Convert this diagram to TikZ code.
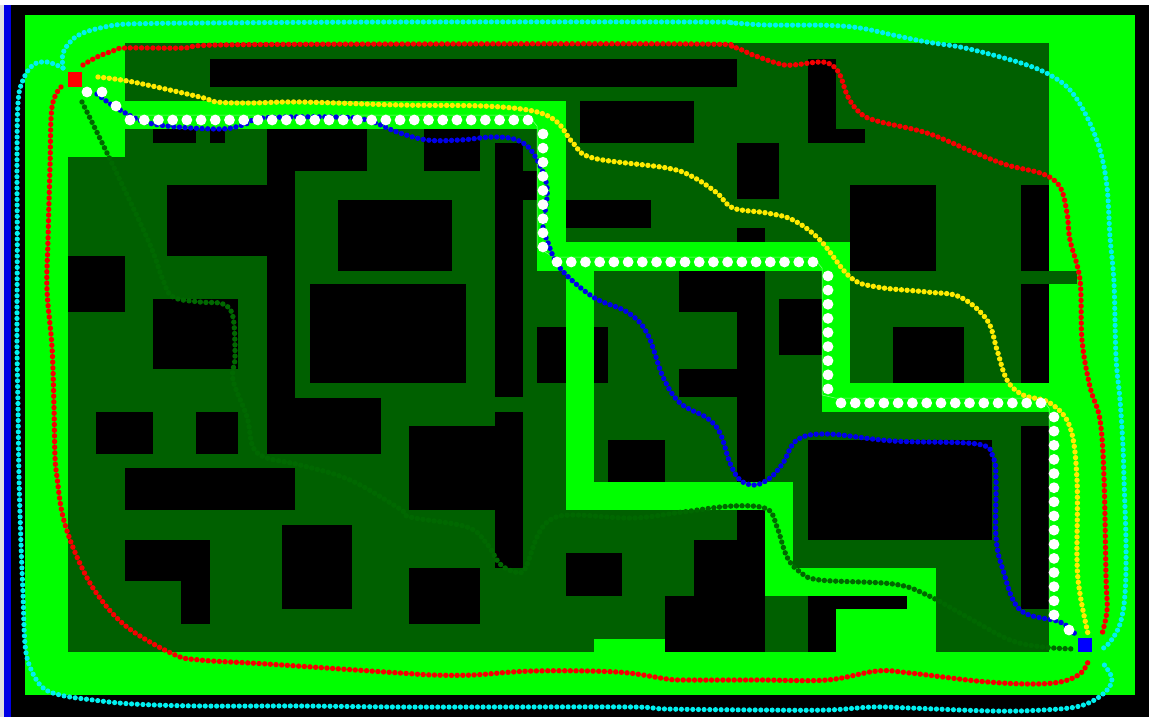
\documentclass[tikz,border=0pt]{standalone}
\definecolor{brightg}{RGB}{0,255,0}
\definecolor{darkg}{RGB}{0,96,0}
\definecolor{pathg}{RGB}{0,104,0}
\definecolor{pathb}{RGB}{0,0,235}
\definecolor{pathy}{RGB}{255,235,0}
\definecolor{pathc}{RGB}{0,240,240}
\definecolor{pathr}{RGB}{245,0,0}
\tikzset{
  trail/.style={line width=5.4pt,line cap=round,dash pattern=on 0pt off 5.67pt},
  obstacle/.style={fill=black},
  free/.style={fill=brightg},
  whitedot/.style={fill=white}
}
\newcommand{\blk}[4]{\fill[obstacle] (#1,#2) rectangle (#3,#4);}
\newcommand{\brt}[4]{\fill[free] (#1,#2) rectangle (#3,#4);}
\begin{document}
\begin{tikzpicture}[x=1pt,y=-1pt]
\useasboundingbox (0,0) rectangle (1149,717);
% frame
\fill[black] (0,0) rectangle (1149,717);
\fill[white] (0,0) rectangle (1149,5);
\fill[black!12] (0,5) rectangle (4,717);
\fill[blue!90!black] (4,5) rectangle (11,717);
\brt{25}{15}{1135}{695}
\fill[darkg] (68,43) rectangle (1049,652);
\fill[darkg] (1049,271) rectangle (1077,284);
% obstacles
\blk{210}{59}{737}{87}
\blk{153}{129}{196}{143}
\blk{210}{129}{225}{143}
\blk{267}{129}{367}{171}
\blk{267}{171}{295}{398}
\blk{267}{398}{381}{454}
\blk{167}{185}{267}{256}
\blk{338}{200}{452}{271}
\blk{68}{256}{125}{312}
\blk{153}{299}{238}{369}
\blk{310}{284}{466}{383}
\blk{96}{412}{153}{454}
\blk{196}{412}{238}{454}
\blk{125}{468}{295}{510}
\blk{125}{540}{210}{581}
\blk{181}{581}{210}{624}
\blk{282}{525}{352}{609}
\blk{409}{568}{480}{624}
\blk{566}{553}{622}{596}
\blk{409}{426}{495}{510}
\blk{495}{412}{523}{568}
\blk{495}{143}{523}{397}
\blk{523}{171}{538}{200}
\blk{424}{129}{480}{171}
\blk{580}{101}{694}{143}
\blk{737}{143}{779}{199}
\blk{566}{200}{651}{228}
\blk{737}{228}{765}{652}
\blk{679}{271}{765}{312}
\blk{679}{369}{765}{397}
\blk{694}{540}{765}{652}
\blk{665}{596}{765}{652}
\blk{537}{327}{608}{383}
\blk{608}{440}{665}{482}
\blk{779}{299}{822}{355}
\blk{808}{59}{836}{143}
\blk{808}{129}{865}{143}
\blk{850}{185}{936}{271}
\blk{1021}{185}{1049}{271}
\blk{1021}{284}{1049}{383}
\blk{893}{327}{964}{383}
\blk{808}{440}{992}{540}
\blk{1021}{426}{1049}{609}
\blk{808}{596}{907}{609}
\blk{808}{609}{836}{652}
% free corridors
\brt{68}{43}{125}{157}
\brt{125}{101}{566}{129}
\brt{537}{101}{566}{271}
\brt{537}{242}{850}{271}
\brt{822}{242}{850}{412}
\brt{822}{383}{1049}{412}
\brt{566}{271}{594}{510}
\brt{566}{482}{793}{510}
\brt{765}{482}{793}{596}
\brt{765}{568}{936}{596}
\brt{907}{596}{936}{652}
\brt{836}{609}{936}{652}
\brt{594}{639}{665}{652}
% grid-planner thin line
\draw[white!55!brightg,line width=0.5pt] (125,115) -- (528,115) -- (537,126) -- (537,247) -- (553,257) -- (813,257) -- (822,268) -- (822,395) -- (835,398) -- (1041,398) -- (1049,408) -- (1049,622);
% dark green trail
\draw[trail,pathg] plot[smooth,tension=0.6] coordinates {(82,102) (107,153) (148,240) (163,280) (173,297) (200,302) (223,304) (233,317) (235,357) (233,380) (247,417) (253,447) (267,458) (300,465) (350,480) (400,509) (410,517) (467,527) (487,544) (500,564) (515,572) (525,569) (537,537) (550,520) (573,515) (633,518) (683,512) (733,506) (767,509) (777,527) (787,557) (800,572) (820,580) (893,584) (927,595) (967,617) (1010,640) (1043,647) (1075,649)};
% cyan trails
\draw[trail,pathc,line width=5.2pt] plot[smooth,tension=0.6] coordinates {(63,68) (63,53) (72,40) (83,33) (100,28) (120,24.5) (150,23.5) (200,23) (400,22) (700,22) (733,23) (767,25) (827,25.3) (860,28) (893,35) (927,42) (960,47) (993,55) (1027,65) (1050,75) (1070,90) (1087,117) (1100,150) (1107,187) (1110,237) (1114,283) (1116,357) (1120,400) (1123,447) (1124,480) (1126,544) (1125,594) (1120,624) (1110,642) (1102,649)};
\draw[trail,pathc,line width=5.2pt] plot[smooth,tension=0.6] coordinates {(63,68) (47,62) (33,65) (23,80) (18,103) (17,167) (17.3,240) (17,340) (18,407) (19,477) (21,544) (23,594) (25,644) (30,667) (42,687) (60,695) (93,700) (133,704) (200,706) (300,706) (400,707) (500,707) (633,707) (667,709) (760,710) (827,710) (873,707) (910,708) (993,711) (1043,710) (1080,706) (1103,694) (1112,679) (1102,662)};
% red trails
\draw[trail,pathr] plot[smooth,tension=0.6] coordinates {(83,65) (97,57) (113,51) (125,48) (183,48) (217,45) (400,44) (700,44) (733,47) (753,55) (780,64) (793,65) (820,62) (832,65) (840,75) (848,97) (860,113) (877,121) (927,133) (973,152) (1007,165) (1043,174) (1060,187) (1067,213) (1070,240) (1080,280) (1082,340) (1090,387) (1100,420) (1104,477) (1106,577) (1107,610) (1102,634)};
\draw[trail,pathr] plot[smooth,tension=0.6] coordinates {(61,87) (52,107) (50,167) (48,240) (47,290) (52,347) (54,407) (55,457) (57,477) (63,517) (77,557) (97,594) (127,627) (173,654) (200,660) (267,664) (400,673) (433,675) (473,675) (533,671) (617,672) (667,679) (683,680) (760,680) (827,680) (877,671) (910,673) (977,681) (1027,684) (1060,682) (1080,674) (1088,662)};
% yellow trail
\draw[trail,pathy] plot[smooth,tension=0.6] coordinates {(98,77) (133,82) (200,97) (217,102) (250,103) (300,102) (400,105) (483,106) (533,111) (557,122) (573,143) (593,158) (667,168) (693,177) (717,193) (733,208) (767,213) (793,220) (820,240) (850,277) (877,287) (927,292) (960,297) (987,320) (997,350) (1007,380) (1023,395) (1050,403) (1070,427) (1077,480) (1077,560) (1080,594) (1088,634)};
% blue trail
\draw[trail,pathb] plot[smooth,tension=0.6] coordinates {(97,94) (120,110) (153,124) (217,129) (243,125) (263,118) (333,117) (367,120) (397,132) (427,140) (460,140) (493,137) (517,140) (533,153) (547,187) (543,227) (547,240) (560,268) (593,297) (627,312) (647,333) (663,377) (680,403) (707,418) (720,433) (730,463) (740,480) (755,485) (770,478) (783,463) (797,440) (827,434) (893,441) (977,444) (993,457) (996,480) (996,537) (1003,570) (1020,610) (1060,622) (1075,634)};
% white grid path
\foreach \x/\y in {87/92,102/92,116/106,1069/630}{\fill[whitedot] (\x,\y) circle[radius=5.4pt];}
\foreach \i in {0,...,28}{\fill[whitedot] ({130+14.214*\i},120) circle[radius=5.4pt];}
\foreach \i in {0,...,8}{\fill[whitedot] (543,{134+14.12*\i}) circle[radius=5.4pt];}
\foreach \i in {0,...,18}{\fill[whitedot] ({557+14.22*\i},262) circle[radius=5.4pt];}
\foreach \i in {0,...,8}{\fill[whitedot] (828,{276+14.12*\i}) circle[radius=5.4pt];}
\foreach \i in {0,...,14}{\fill[whitedot] ({841+14.28*\i},403) circle[radius=5.4pt];}
\foreach \i in {0,...,14}{\fill[whitedot] (1054,{417+14.14*\i}) circle[radius=5.4pt];}
% start and goal
\fill[red] (68,72) rectangle (82,87);
\fill[blue] (1078,638) rectangle (1092,652);
\end{tikzpicture}
\end{document}
